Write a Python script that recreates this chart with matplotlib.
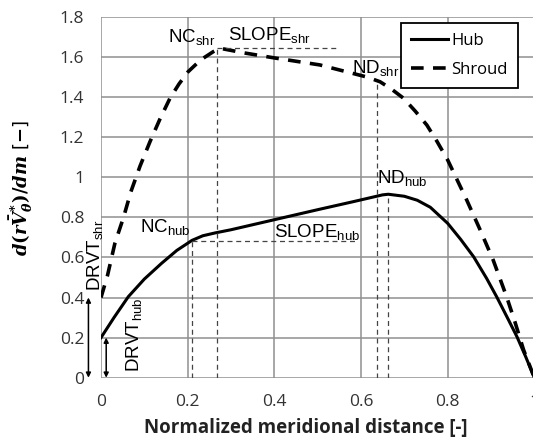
import matplotlib
matplotlib.use("Agg")
import matplotlib.pyplot as plt

# custom math fonts so the y label comes out bold italic serif
plt.rcParams['mathtext.fontset'] = 'custom'
plt.rcParams['mathtext.it'] = 'DejaVu Serif:italic:bold'
plt.rcParams['mathtext.rm'] = 'DejaVu Serif:bold'
plt.rcParams['mathtext.bf'] = 'DejaVu Serif:bold'

# data
hub_x = [0, 0.03, 0.063, 0.10, 0.14, 0.175, 0.21, 0.235, 0.263, 0.30, 0.40, 0.50,
         0.58, 0.636, 0.65, 0.663, 0.70, 0.73, 0.76, 0.80, 0.83, 0.86, 0.89, 0.913,
         0.94, 0.96, 0.98, 1.0]
hub_y = [0.2, 0.30, 0.404, 0.492, 0.571, 0.635, 0.685, 0.708, 0.722, 0.738, 0.788,
         0.838, 0.877, 0.905, 0.912, 0.915, 0.905, 0.885, 0.85, 0.77, 0.69, 0.603,
         0.495, 0.404, 0.29, 0.204, 0.105, 0.0]
shr_x = [0, 0.015, 0.032, 0.052, 0.069, 0.09, 0.113, 0.136, 0.159, 0.18, 0.201, 0.23,
         0.259, 0.275, 0.33, 0.40, 0.505, 0.613, 0.644, 0.67, 0.698, 0.725, 0.752,
         0.775, 0.80, 0.844, 0.875, 0.905, 0.936, 0.955, 0.975, 1.0]
shr_y = [0.4, 0.51, 0.67, 0.80, 0.928, 1.055, 1.177, 1.29, 1.393, 1.465, 1.526, 1.585,
         1.626, 1.643, 1.62, 1.595, 1.56, 1.50, 1.476, 1.44, 1.394, 1.33, 1.26,
         1.18, 1.086, 0.886, 0.737, 0.587, 0.404, 0.28, 0.14, 0.0]

# marker points for the annotations
nc_hub = (0.21, 0.683)
nc_shr = (0.267, 1.643)
nd_hub = 0.663
nd_shr = 0.636
slope_hub_end = 0.585
slope_shr_end = 0.55
drvt_hub = 0.2
drvt_shr = 0.4

x_ticks = [0, 0.2, 0.4, 0.6, 0.8, 1]
y_ticks = [0, 0.2, 0.4, 0.6, 0.8, 1, 1.2, 1.4, 1.6, 1.8]

fig = plt.figure(figsize=(5.33, 4.47), dpi=100)
ax = fig.add_axes([0.1895, 0.155, 0.813, 0.8074])

ax.plot(hub_x, hub_y, color='black', lw=2.2, label='Hub')
ax.plot(shr_x, shr_y, color='black', lw=2.6, dashes=(3.5, 2.6), label='Shroud')

# thin guide lines
guide = dict(color='#444444', lw=0.9, dashes=(4, 3))
ax.plot([nc_hub[0], nc_hub[0]], [0, nc_hub[1]], **guide)
ax.plot([nc_hub[0], slope_hub_end], [nc_hub[1], nc_hub[1]], **guide)
ax.plot([nc_shr[0], nc_shr[0]], [0, nc_shr[1]], **guide)
ax.plot([nc_shr[0], slope_shr_end], [nc_shr[1], nc_shr[1]], **guide)
ax.plot([nd_shr, nd_shr], [0, 1.478], **guide)
ax.plot([nd_hub, nd_hub], [0, 0.912], **guide)

# double arrows for DRVT
arr = dict(arrowstyle='<|-|>', lw=1.1, color='black', shrinkA=0, shrinkB=0,
           mutation_scale=7)
ax.annotate('', xy=(-0.029, drvt_shr), xytext=(-0.029, 0), arrowprops=arr,
            annotation_clip=False)
ax.annotate('', xy=(0.012, drvt_hub), xytext=(0.012, 0), arrowprops=arr,
            annotation_clip=False)

lab = dict(fontsize=13.5, family='Liberation Sans', color='black')
ax.text(0.154, 1.676, r'NC$_{\mathregular{shr}}$', **lab)
ax.text(0.294, 1.684, r'SLOPE$_{\mathregular{shr}}$', **lab)
ax.text(0.579, 1.518, r'ND$_{\mathregular{shr}}$', **lab)
ax.text(0.09, 0.728, r'NC$_{\mathregular{hub}}$', **lab)
ax.text(0.399, 0.70, r'SLOPE$_{\mathregular{hub}}$', **lab)
ax.text(0.636, 0.97, r'ND$_{\mathregular{hub}}$', **lab)
ax.text(-0.015, 0.43, r'DRVT$_{\mathregular{shr}}$', rotation=90, ha='center',
        va='bottom', clip_on=False, **lab)
ax.text(0.077, 0.03, r'DRVT$_{\mathregular{hub}}$', rotation=90, ha='center',
        va='bottom', **lab)

ax.set_xlim(0, 1)
ax.set_ylim(0, 1.8)
ax.set_xticks(x_ticks)
ax.set_xticklabels([f'{t:g}' for t in x_ticks])
ax.set_yticks(y_ticks)
ax.set_yticklabels([f'{t:g}' for t in y_ticks])
ax.grid(True, color='#909090', lw=1.1)
ax.set_axisbelow(True)
for s in ax.spines.values():
    s.set_visible(False)
ax.tick_params(length=0, labelsize=12.5, labelcolor='#333333', pad=12)
for t in ax.get_xticklabels() + ax.get_yticklabels():
    t.set_family('Open Sans')

ax.set_xlabel('Normalized meridional distance [-]', fontsize=13.5, fontweight='bold',
              family='Open Sans', color='#222222')
ax.xaxis.set_label_coords(0.473, -0.112)
ax.set_ylabel(r'$d(r\bar{V}_{\theta}^{*})/dm$ [$-$]', fontsize=13)
ax.yaxis.set_label_coords(-0.152, 0.525)

leg = ax.legend(loc='upper right', bbox_to_anchor=(0.962, 0.984), fancybox=False,
                framealpha=1, edgecolor='black', fontsize=12, handlelength=2.2,
                borderpad=0.6, labelspacing=0.8, handletextpad=0.2,
                borderaxespad=0)
leg.get_frame().set_linewidth(1.3)
for t in leg.get_texts():
    t.set_family('Open Sans')

fig.savefig('out.png', dpi=100)
